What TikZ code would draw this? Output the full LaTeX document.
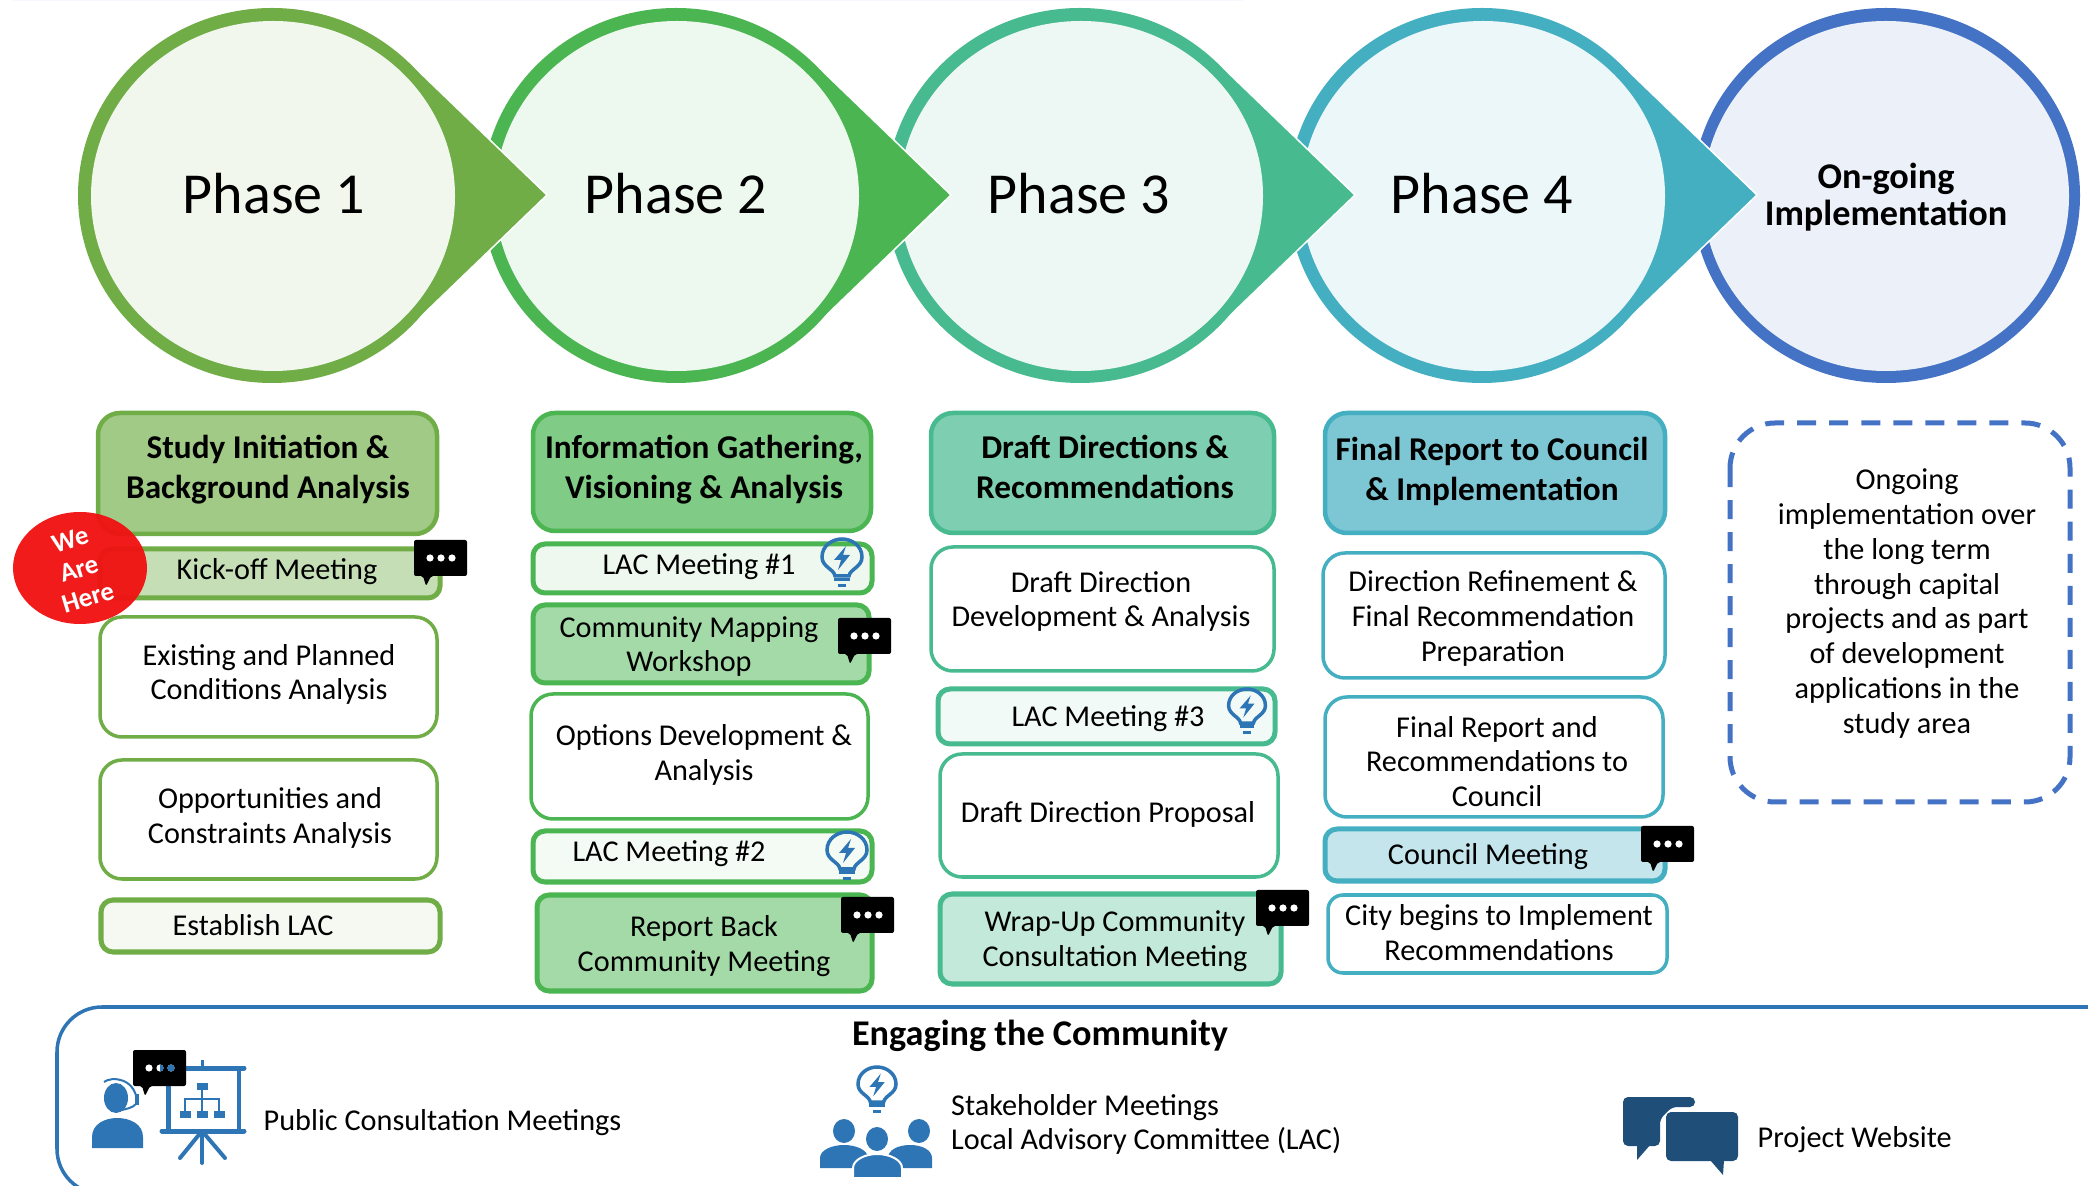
\documentclass[tikz,border=0pt]{standalone}
\usepackage{fontspec}
\setmainfont{Carlito}
\definecolor{ringA}{HTML}{70AD47}
\definecolor{ringB}{HTML}{4AB551}
\definecolor{ringC}{HTML}{47BB8F}
\definecolor{ringD}{HTML}{45AFC2}
\definecolor{ringE}{HTML}{4472C4}
\definecolor{iconblue}{HTML}{2E75B6}
\definecolor{icondark}{HTML}{1F4E79}
\definecolor{stickerred}{HTML}{F01212}
\tikzset{
	bodytxt/.style={font=\fontsize{8.6}{9.9}\selectfont, align=center, inner sep=0pt},
	headtxt/.style={font=\fontsize{9.45}{11.2}\selectfont\bfseries, align=center, inner sep=0pt},
	phasetxt/.style={font=\fontsize{16.5}{19}\selectfont, inner sep=0pt},
	bigbox/.style={rounded corners=0.22cm, line width=0.045cm},
	thinbox/.style={rounded corners=0.22cm, line width=0.035cm, fill=white},
	flatbox/.style={rounded corners=0.12cm, line width=0.05cm},
	chatbub/.pic={
		\fill[black, rounded corners=0.02cm] (0,0) -- (53,0) -- (53,36) -- (17,36) -- (12,46) -- (9,36) -- (0,36) -- cycle;
		\foreach \d in {16,27,38}
			\fill[white] (\d,18) circle[radius=3.6];
	},
	bulb/.pic={
		\draw[iconblue, line width=0.035cm] (-7,37) .. controls (-8,30) and (-20,28) .. (-20,18) .. controls (-20,7) and (-10,0) .. (0,0) .. controls (10,0) and (20,7) .. (20,18) .. controls (20,28) and (8,30) .. (7,37) -- cycle;
		\fill[iconblue] (4,7) -- (-8,21) -- (-1,21) -- (-4,31) -- (8,16) -- (1,16) -- cycle;
		\draw[iconblue, line width=0.03cm] (-8,41) -- (8,41);
		\draw[iconblue, line width=0.03cm] (-4,47) -- (4,47);
	}
}
\begin{document}
\begin{tikzpicture}[x=0.01cm, y=-0.01cm]
	\useasboundingbox (0,0) rectangle (2088,1186);
	\clip (0,0) rectangle (2088,1186);
	\fill[black!5!blue!3] (13,0) rectangle (1243,1.5);

	% phase rings, last one first so each arrow lies on the next ring
	\fill[ringE] (1886,195.5) ellipse [x radius=194, y radius=187.5];
	\fill[ringE!10] (1886,196) ellipse [x radius=183, y radius=175];
	\foreach \cx/\ring in {1482/ringD, 1080/ringC, 676/ringB, 272/ringA} {
		\filldraw[\ring, draw=white, line width=0.015cm] (\cx+137,195-133) -- (\cx+275,195) -- (\cx+137,195+133) -- cycle;
		\fill[\ring] (\cx,195.5) ellipse [x radius=194, y radius=187.5];
		\fill[\ring!10] (\cx+1,196) ellipse [x radius=182, y radius=175];
	}
	\node[phasetxt] (phaseA) at (274,194) {Phase 1};
	\node[phasetxt] (phaseB) at (676,194) {Phase 2};
	\node[phasetxt] (phaseC) at (1079,194) {Phase 3};
	\node[phasetxt] (phaseD) at (1482,194) {Phase 4};
	\node[font=\fontsize{10.3}{10.6}\selectfont\bfseries, align=center, inner sep=0pt] (phaseE) at (1886,197) {On-going\\Implementation};

	% first column
	\draw[bigbox, draw=ringA, fill=ringA!65] (98,413) rectangle (437,534);
	\node[headtxt] (studyhead) at (268,469.5) {Study Initiation \&\\Background Analysis};
	\draw[flatbox, draw=ringA, fill=ringA!40] (100,549) rectangle (440,598);
	\node[bodytxt] (kickoff) at (277,571.5) {Kick-off Meeting};
	\draw[thinbox, draw=ringA] (100,617) rectangle (437,737);
	\node[bodytxt] (existing) at (269,674.5) {Existing and Planned\\Conditions Analysis};
	\draw[thinbox, draw=ringA] (100,760) rectangle (437,879);
	\node[bodytxt] (opportunity) at (270,818) {Opportunities and\\Constraints Analysis};
	\draw[flatbox, draw=ringA, fill=ringA!7] (101,900) rectangle (440,952);
	\node[bodytxt] (establish) at (253,925) {Establish LAC};

	% second column
	\draw[bigbox, draw=ringB, fill=ringB!70] (533,413) rectangle (871,531);
	\node[headtxt] (infohead) at (704,469.5) {Information Gathering,\\Visioning \& Analysis};
	\draw[flatbox, draw=ringB, fill=ringB!9] (533,544) rectangle (872,593);
	\node[bodytxt] (lacone) at (699,566.5) {LAC Meeting \#1};
	\draw[flatbox, draw=ringB, fill=ringB!50] (533,605) rectangle (869,683);
	\node[bodytxt] (mapping) at (689,646.5) {Community Mapping\\Workshop};
	\draw[thinbox, draw=ringB] (531,694) rectangle (868,819);
	\node[bodytxt] (options) at (704,755) {Options Development \&\\Analysis};
	\draw[flatbox, draw=ringB, fill=ringB!6] (533,831) rectangle (872,882);
	\node[bodytxt] (lactwo) at (669,853.5) {LAC Meeting \#2};
	\draw[flatbox, draw=ringB, fill=ringB!50] (537,895) rectangle (872,991);
	\node[bodytxt] (report) at (704,946.5) {Report Back\\Community Meeting};

	% third column
	\draw[bigbox, draw=ringC, fill=ringC!70] (931,413) rectangle (1274,533);
	\node[headtxt] (drafthead) at (1105,467) {Draft Directions \&\\Recommendations};
	\draw[thinbox, draw=ringC] (931,547) rectangle (1274,671);
	\node[bodytxt] (draftdev) at (1101,601.5) {Draft Direction\\Development \& Analysis};
	\draw[flatbox, draw=ringC, fill=ringC!7] (938,689) rectangle (1275,744);
	\node[bodytxt] (lacthree) at (1108,718.5) {LAC Meeting \#3};
	\draw[thinbox, draw=ringC] (940,754) rectangle (1278,877);
	\node[bodytxt] (proposal) at (1108,814) {Draft Direction Proposal};
	\draw[flatbox, draw=ringC, fill=ringC!33] (940,894) rectangle (1281,984);
	\node[bodytxt] (wrapup) at (1115,941.5) {Wrap-Up Community\\Consultation Meeting};

	% fourth column
	\draw[bigbox, draw=ringD, fill=ringD!70] (1325,413) rectangle (1665,533);
	\node[headtxt] (finalhead) at (1492,471.5) {Final Report to Council\\\& Implementation};
	\draw[thinbox, draw=ringD] (1323,553) rectangle (1665,678);
	\node[bodytxt] (refine) at (1493,618.5) {Direction Refinement \&\\Final Recommendation\\Preparation};
	\draw[thinbox, draw=ringD] (1325,697) rectangle (1663,817);
	\node[bodytxt] (finalrep) at (1497,761.5) {Final Report and\\Recommendations to\\Council};
	\draw[flatbox, draw=ringD, fill=ringD!32] (1325,829) rectangle (1665,881);
	\node[bodytxt] (council) at (1488,857) {Council Meeting};
	\draw[thinbox, draw=ringD, rounded corners=0.15cm] (1328,895) rectangle (1667,973);
	\node[bodytxt] (city) at (1499,933) {City begins to Implement\\Recommendations};

	% on-going column
	\draw[ringE, line width=0.05cm, dash pattern=on 0.19cm off 0.13cm, rounded corners=0.45cm] (1730,423) rectangle (2070,802);
	\node[bodytxt] (ongoing) at (1907,603.5) {Ongoing\\implementation over\\the long term\\through capital\\projects and as part\\of development\\applications in the\\study area};

	% sticker
	\fill[stickerred, opacity=0.96] (80,568) ellipse [x radius=67, y radius=56];
	\node[font=\fontsize{7.6}{8.6}\selectfont\bfseries, text=white, align=center, rotate=17, inner sep=0pt] (sticker) at (79,569) {We\\Are\\Here};

	% icons on the boxes
	\foreach \ax/\ay in {414/540, 838/618, 841/897, 1256/890, 1641/826}
		\pic at (\ax,\ay) {chatbub};
	\pic at (842,539) {bulb};
	\pic at (847,832) {bulb};
	\pic[scale=0.92] at (1247,689) {bulb};

	% community panel
	\draw[iconblue, line width=0.035cm, rounded corners=0.45cm] (2200,1007) -- (57,1007) -- (57,1194) -- (2200,1194);
	\node[font=\fontsize{10.3}{12}\selectfont\bfseries, inner sep=0pt] (engage) at (1040,1036) {Engaging the Community};

	% presenter icon
	\fill[iconblue] (116,1098) ellipse [x radius=12, y radius=15];
	\draw[iconblue, line width=0.02cm] (104,1082) .. controls (112,1076) and (134,1078) .. (137,1100) .. controls (138,1106) and (130,1108) .. (122,1110);
	\fill[iconblue] (135,1094) rectangle (139,1105);
	\fill[iconblue] (92,1148) -- (92,1137) .. controls (92,1124) and (105,1118) .. (117,1118) .. controls (130,1118) and (143,1124) .. (143,1137) -- (143,1148) -- cycle;
	\draw[iconblue, line width=0.05cm, line cap=round] (165,1068) -- (244,1068);
	\draw[iconblue, line width=0.05cm, line cap=round] (162,1131) -- (244,1131);
	\draw[iconblue, line width=0.03cm] (202,1060) -- (202,1068);
	\draw[iconblue, line width=0.05cm] (168,1068) -- (168,1131);
	\draw[iconblue, line width=0.045cm] (239,1068) -- (239,1131);
	\draw[iconblue, line width=0.04cm, line cap=round] (202,1131) -- (202,1163);
	\draw[iconblue, line width=0.04cm, line cap=round] (202,1131) -- (180,1158);
	\draw[iconblue, line width=0.04cm, line cap=round] (202,1131) -- (225,1158);
	\fill[iconblue] (197,1083) rectangle (208,1090);
	\foreach \bx in {180,197,214}
		\fill[iconblue] (\bx,1111) rectangle (\bx+11,1118);
	\draw[iconblue, line width=0.015cm] (202,1090) -- (202,1111);
	\draw[iconblue, line width=0.015cm] (185,1111) -- (185,1099) -- (219,1099) -- (219,1111);
	\pic at (133,1050) {chatbub};
	\fill[iconblue] (171,1068) circle[radius=3.6];
	\begin{scope}
		\clip (160,1060) rectangle (166,1076);
		\fill[iconblue] (160,1068) circle[radius=3.6];
	\end{scope}
	\node[bodytxt, anchor=west] (publictxt) at (263,1123) {Public Consultation Meetings};

	% stakeholder icon
	\pic[scale=0.95] at (877,1067) {bulb};
	\foreach \hx/\hy in {845/1131, 920/1131}
		\fill[iconblue] (\hx-1,\hy) ellipse [x radius=11, y radius=12];
	\fill[iconblue] (820,1168) -- (820,1158) .. controls (820,1150) and (832,1145) .. (844,1145) .. controls (856,1145) and (868,1150) .. (868,1158) -- (868,1168) -- cycle;
	\fill[iconblue] (888,1168) -- (888,1158) .. controls (888,1150) and (898,1145) .. (910,1145) .. controls (922,1145) and (932,1150) .. (932,1158) -- (932,1168) -- cycle;
	\fill[iconblue] (877,1139) ellipse [x radius=11, y radius=12];
	\filldraw[iconblue, draw=white, line width=0.02cm] (853,1178) -- (853,1168) .. controls (853,1160) and (865,1154) .. (877,1154) .. controls (890,1154) and (902,1160) .. (902,1168) -- (902,1178) -- cycle;
	\node[bodytxt, anchor=west, align=left] (staketxt) at (950.5,1124.5) {Stakeholder Meetings\\Local Advisory Committee (LAC)};

	% website icon
	\fill[icondark, rounded corners=0.05cm] (1623,1097) -- (1695,1097) -- (1695,1107) -- (1672,1107) -- (1660,1119) -- (1660,1146) -- (1623,1146) -- cycle;
	\fill[icondark] (1637,1144) -- (1651,1144) -- (1637,1160) -- cycle;
	\fill[icondark, rounded corners=0.05cm] (1666,1112) rectangle (1738,1161);
	\fill[icondark] (1710,1160) -- (1724,1160) -- (1723,1175) -- cycle;
	\node[bodytxt, anchor=west] (webtxt) at (1757,1140) {Project Website};
\end{tikzpicture}
\end{document}
